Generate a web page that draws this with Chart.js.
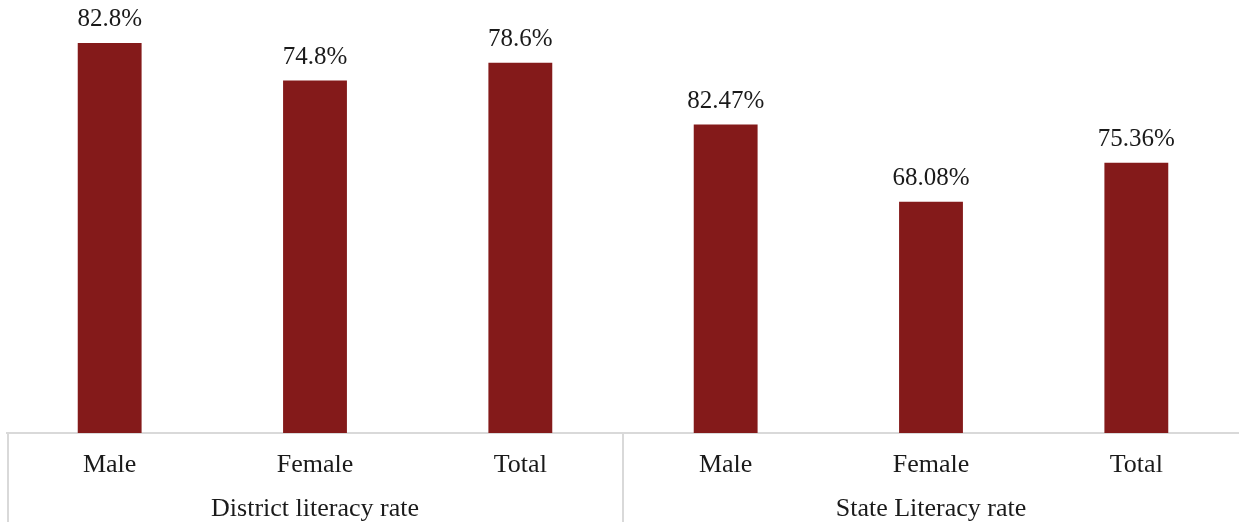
<!DOCTYPE html>
<html>
<head>
<meta charset="utf-8">
<script src="https://cdn.jsdelivr.net/npm/chart.js@4.4.1/dist/chart.umd.min.js"></script>
<style>
  html, body { margin: 0; padding: 0; background: #fff; }
  #wrap { width: 1239px; height: 522px; position: relative; }
</style>
</head>
<body>
<div id="wrap"><canvas id="chart"></canvas></div>
<script>
const CATEGORIES = ["Male", "Female", "Total", "Male", "Female", "Total"];
const GROUPS = ["District literacy rate", "State Literacy rate"];
const DISTRICT_RATES = [82.8, 74.8, 78.6, null, null, null];
const STATE_RATES = [null, null, null, 82.47, 68.08, 75.36];

const BAR_COLOR = "#841a1a";
const LINE_COLOR = "#d9d9d9";
const TEXT_COLOR = "#1a1a1a";
const FONT = "'Liberation Serif', 'Times New Roman', serif";

// percent text above every bar
const valueLabels = {
  id: "valueLabels",
  afterDatasetsDraw(chart) {
    const ctx = chart.ctx;
    ctx.save();
    ctx.font = `25px ${FONT}`;
    ctx.fillStyle = TEXT_COLOR;
    ctx.textAlign = "center";
    ctx.textBaseline = "alphabetic";
    chart.data.datasets.forEach((ds, i) => {
      chart.getDatasetMeta(i).data.forEach((bar, j) => {
        const v = ds.data[j];
        if (v == null) return;
        ctx.fillText(`${v}%`, bar.x, bar.y - 17);
      });
    });
    ctx.restore();
  },
};

// vertical dividers of the two-level category table under the axis
const tableLines = {
  id: "tableLines",
  afterDraw(chart) {
    const { ctx, chartArea } = chart;
    const x = chart.scales.x;
    ctx.save();
    ctx.strokeStyle = LINE_COLOR;
    ctx.lineWidth = 2;
    [x.left + 1, (x.left + x.right) / 2].forEach((px) => {
      ctx.beginPath();
      ctx.moveTo(px, chartArea.bottom);
      ctx.lineTo(px, chart.height);
      ctx.stroke();
    });
    ctx.restore();
  },
};

new Chart(document.getElementById("chart"), {
  type: "bar",
  data: {
    labels: CATEGORIES,
    datasets: [
      { data: DISTRICT_RATES, yAxisID: "y", backgroundColor: BAR_COLOR },
      { data: STATE_RATES, yAxisID: "y2", backgroundColor: BAR_COLOR },
    ],
  },
  options: {
    responsive: true,
    maintainAspectRatio: false,
    animation: false,
    layout: { padding: { top: 9, left: 7, right: 0, bottom: 0 } },
    datasets: {
      bar: { grouped: false, barPercentage: 0.311, categoryPercentage: 1 },
    },
    plugins: { legend: { display: false }, tooltip: { enabled: false } },
    scales: {
      x: {
        weight: 0,
        grid: { display: false },
        border: { display: true, color: LINE_COLOR, width: 2 },
        ticks: {
          color: TEXT_COLOR,
          font: { family: FONT, size: 26 },
          padding: 9,
          maxRotation: 0,
          autoSkip: false,
        },
        afterFit: (s) => { s.height = 50; },
      },
      xGroup: {
        type: "category",
        labels: GROUPS,
        position: "bottom",
        weight: 1,
        offset: true,
        grid: { display: false },
        border: { display: false },
        ticks: {
          color: TEXT_COLOR,
          font: { family: FONT, size: 26 },
          padding: 3,
          maxRotation: 0,
          autoSkip: false,
        },
        afterFit: (s) => { s.height = 39; },
      },
      y: { display: false, min: 0, max: 90 },
      y2: { display: false, min: 25, max: 104 },
    },
  },
  plugins: [valueLabels, tableLines],
});
</script>
</body>
</html>
